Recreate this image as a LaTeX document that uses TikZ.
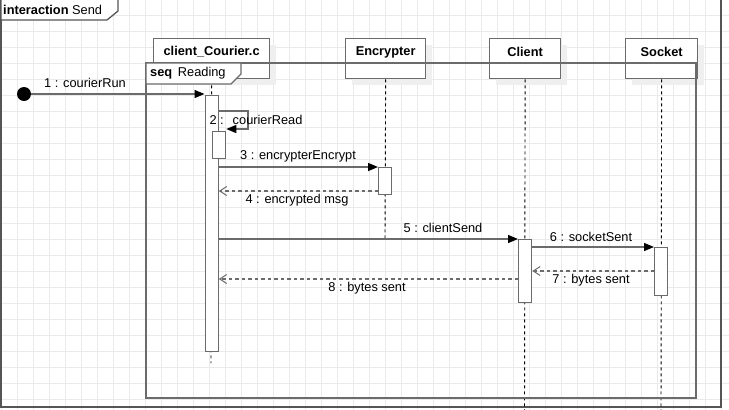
\documentclass[tikz,border=0pt]{standalone}
\usepackage{fontspec}
\setmainfont{Liberation Sans}
\usetikzlibrary{arrows.meta,calc}
\definecolor{ln}{HTML}{6B6B6B}
\definecolor{frm}{HTML}{555555}
\definecolor{gridc}{HTML}{EAEAEA}
\definecolor{shd}{HTML}{EFEFEF}
\tikzset{
  headbox/.style={draw=ln, line width=1.3pt, fill=white, minimum height=40pt, inner sep=0pt, anchor=north west},
  headtxt/.style={font=\fontsize{12.8}{15}\selectfont\bfseries},
  actbox/.style={draw=ln, line width=1.3pt, fill=white, minimum width=13pt, inner sep=0pt, anchor=north west},
  life/.style={black, line width=0.9pt, dash pattern=on 3pt off 3pt},
  callmsg/.style={ln, line width=1.3pt, -{Triangle[length=10pt,width=8pt,fill=black,color=black]}},
  retmsg/.style={ln, line width=1.3pt, dash pattern=on 3.5pt off 3pt, -{Straight Barb[length=7pt,width=9pt,line width=1pt]}},
  msglbl/.style={font=\fontsize{12.8}{15}\selectfont, inner sep=0pt},
  framebox/.style={draw=ln, line width=1.6pt},
}
\begin{document}
\begin{tikzpicture}[x=1pt,y=-1pt]
\useasboundingbox (0,0) rectangle (729,410);
% grid
\foreach \gx in {1,17,...,729} \draw[gridc, line width=0.7pt] (\gx,0) -- (\gx,410);
\foreach \gy in {15,31,...,410} \draw[gridc, line width=0.7pt] (0,\gy) -- (729,\gy);
% interaction frame
\draw[frm, line width=1.6pt] (1,-2) rectangle (721,407);
\filldraw[fill=white, draw=frm, line width=1.3pt] (1,-2) -- (118,-2) -- (118,11) -- (107,20) -- (1,20) -- cycle;
\node[msglbl, anchor=west] (ititle) at (3,10) {\textbf{interaction} Send};
% head shadows
\fill[shd] (160,45) rectangle (276,85);
\fill[shd] (352,45) rectangle (432,85);
\fill[shd] (496,45) rectangle (567,85);
\fill[shd] (632,45) rectangle (704,85);
% heads
\node[headbox, minimum width=116pt] (hcc) at (153,38) {};
\node[headbox, minimum width=80pt] (henc) at (345,38) {};
\node[headbox, minimum width=71pt] (hcli) at (489,38) {};
\node[headbox, minimum width=72pt] (hsoc) at (625,38) {};
\node[headtxt] (tcc) at ($(hcc.north)+(0,14)$) {client\_Courier.c};
\node[headtxt] (tenc) at ($(henc.north)+(0,14)$) {Encrypter};
\node[headtxt] (tcli) at ($(hcli.north)+(0,14)$) {Client};
\node[headtxt] (tsoc) at ($(hsoc.north)+(0,14)$) {Socket};
% lifeline ends
\coordinate (ecc) at (211,363);
\coordinate (eenc) at (385,239);
\coordinate (ecli) at (524.5,412);
\coordinate (esoc) at (661,412);
\draw[life] (hcc.south) -- (ecc);
\draw[life] (henc.south) -- (eenc);
\draw[life] (hcli.south) -- (ecli);
\draw[life] (hsoc.south) -- (esoc);
% seq frame
\draw[framebox] (146,63) rectangle (696,398);
\filldraw[fill=white, draw=ln, line width=1.3pt] (146,63) -- (241,63) -- (241,74) -- (231,84) -- (146,84) -- cycle;
\node[msglbl, anchor=west] (stitle) at (150,73.5) {\textbf{seq}\, Reading};
% activations
\node[actbox, minimum height=256pt] (acc) at (204.5,95) {};
\node[actbox, minimum height=27pt] (acc2) at (212,131) {};
\node[actbox, minimum height=27pt] (aenc) at (378,167) {};
\node[actbox, minimum height=63pt] (acli) at (518,239) {};
\node[actbox, minimum height=48pt] (asoc) at (654,247) {};
% start point
\node[circle, fill=black, minimum size=14pt, inner sep=0pt] (start) at (24,94) {};
% messages
\draw[callmsg] (start) -- (acc.west |- start);
\node[msglbl] (l1) at (85,83) {1 : courierRun};
\draw[callmsg] (acc.east |- 0,111) -- (248,111) -- (248,129) -- (acc2.east |- 0,129);
\node[msglbl] (l2) at (256,119.5) {2 :\hspace{9pt}courierRead};
\draw[callmsg] (acc.east |- aenc.north) -- (aenc.north west);
\node[msglbl] (l3) at (298,156.5) {3 : encrypterEncrypt};
\draw[retmsg] (aenc.west |- 0,191) -- (acc.east |- 0,191);
\node[msglbl] (l4) at (297,200.5) {4 : encrypted msg};
\draw[callmsg] (acc.east |- acli.north) -- (acli.north west);
\node[msglbl] (l5) at (443,228) {5 : clientSend};
\draw[callmsg] (acli.east |- asoc.north) -- (asoc.north west);
\node[msglbl] (l6) at (591,236.5) {6 : socketSent};
\draw[retmsg] (asoc.west |- 0,271) -- (acli.east |- 0,271);
\node[msglbl] (l7) at (591,280.5) {7 : bytes sent};
\draw[retmsg] (acli.west |- 0,279) -- (acc.east |- 0,279);
\node[msglbl] (l8) at (367,288) {8 : bytes sent};
\end{tikzpicture}
\end{document}
